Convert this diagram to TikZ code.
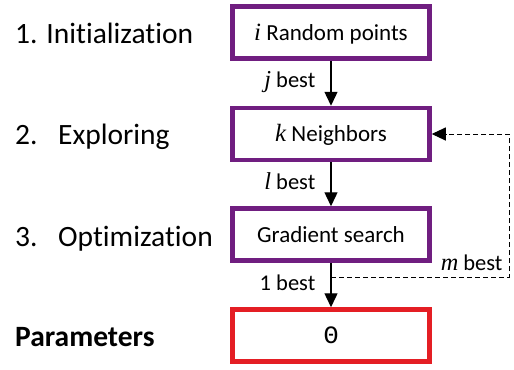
\documentclass[tikz,border=0pt]{standalone}
\usepackage{fontspec}
\setmainfont{Carlito}[Ligatures=NoCommon, RawFeature=-liga]
\newfontfamily\thetafont{Liberation Mono}
\newfontfamily\mitfont{Liberation Serif}[Scale=1.08]
\newcommand{\mv}[1]{{\mitfont\itshape #1}}
\usetikzlibrary{arrows.meta}
\definecolor{boxpurple}{RGB}{112,30,128}
\definecolor{boxred}{RGB}{228,30,36}
\tikzset{
  stepbox/.style={draw=boxpurple, line width=4.5bp, minimum width=197bp, minimum height=52bp,
    inner sep=0pt, text height=15bp, text depth=0bp, font=\fontsize{23bp}{27bp}\selectfont},
  parbox/.style={stepbox, draw=boxred},
  arr/.style={line width=1.4bp, -{Triangle[length=14bp,width=13bp]}},
  darr/.style={line width=1bp, dash pattern=on 5bp off 3bp, -{Triangle[length=14bp,width=13bp]}},
  lbl/.style={inner sep=0pt, font=\fontsize{22.5bp}{26bp}\selectfont},
  stage/.style={inner sep=0pt, anchor=base west, font=\fontsize{29.5bp}{34bp}\selectfont},
}
\begin{document}
\begin{tikzpicture}[x=1bp,y=-1bp]
\useasboundingbox (0,0) rectangle (514,369);
\node[stepbox] (b1) at (331,32.5) {\mv{i} Random points};
\node[stepbox] (b2) at (331,134) {\mv{k} Neighbors};
\node[stepbox] (b3) at (331,234.5) {Gradient search};
\node[parbox] (b4) at (331,335.5) {\thetafont\fontsize{25bp}{30bp}\selectfont Θ};
\node[stage] (s1) at (15,43.3) {1. Initialization};
\node[stage] (s2) at (15,144.3) {\makebox[43bp][l]{2.}Exploring};
\node[stage] (s3) at (15,246.7) {\makebox[43bp][l]{3.}Optimization};
\node[stage] (s4) at (15,346.7) {\bfseries Parameters};
\coordinate (jn) at (331,277);
\coordinate (c1) at (509,277);
\coordinate (c2) at (509,134);
\draw[arr] (b1) -- node[lbl, anchor=base east, xshift=-15bp, yshift=-4.5bp] (l1) {\mv{j} best} (b2);
\draw[arr] (b2) -- node[lbl, anchor=base east, xshift=-15bp, yshift=-5.5bp] (l2) {\mv{l} best} (b3);
\draw[arr] (b3) -- node[lbl, anchor=base east, xshift=-15bp, yshift=-5bp] (l3) {1 best} (b4);
\draw[darr] (jn) -- node[lbl, pos=1, anchor=base east, xshift=-6bp, yshift=7bp] (l4) {\mv{m} best} (c1) -- (c2) -- (b2.east);
\end{tikzpicture}
\end{document}
